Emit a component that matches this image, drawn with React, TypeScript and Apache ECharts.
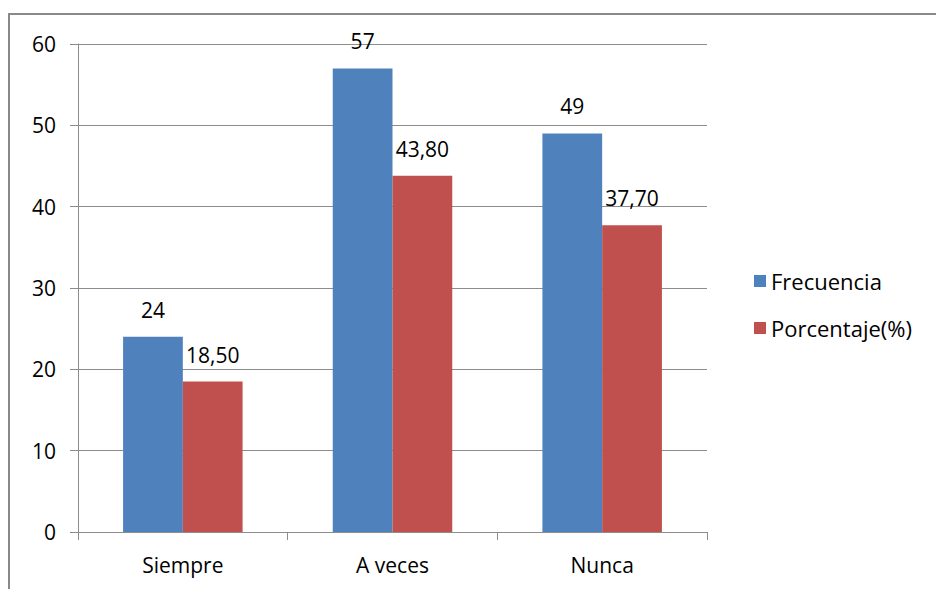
import React, { useEffect, useRef } from "react";
import * as echarts from "echarts";

const categories = ["Siempre", "A veces", "Nunca"];
const frecuencia = [24, 57, 49];
const porcentaje = [18.5, 43.8, 37.7];
const seriesNames = ["Frecuencia", "Porcentaje(%)"];
const yTicks = { min: 0, max: 60, interval: 10 };

const FONT = "'Open Sans', 'Liberation Sans', sans-serif";

export default function App() {
  const ref = useRef<HTMLDivElement>(null);
  useEffect(() => {
    if (!ref.current) return;
    const chart = echarts.init(ref.current, null, { renderer: "svg" });
    const labelStyle = {
      show: true,
      position: "top",
      distance: 16,
      color: "#000",
      fontFamily: FONT,
      fontSize: 21,
      lineHeight: 22,
    };
    chart.setOption({
      animation: false,
      backgroundColor: "#fff",
      textStyle: { fontFamily: FONT },
      graphic: [
        {
          type: "rect",
          shape: { x: 9, y: 14, width: 1000, height: 1000 },
          style: { fill: "none", stroke: "#898989", lineWidth: 2 },
          silent: true,
        },
      ],
      legend: {
        orient: "vertical",
        left: 749,
        top: 264,
        itemWidth: 12,
        itemHeight: 12,
        itemGap: 23,
        icon: "rect",
        textStyle: {
          fontFamily: FONT,
          fontSize: 22,
          lineHeight: 24,
          color: "#000",
          padding: [0, 0, 0, 0],
        },
        data: seriesNames,
      },
      grid: { left: 78, right: 229, top: 44, bottom: 57, containLabel: false },
      xAxis: {
        type: "category",
        data: categories,
        axisLine: { lineStyle: { color: "#8c8c8c", width: 1 } },
        axisTick: { show: true, length: 8, lineStyle: { color: "#8c8c8c" } },
        axisLabel: { color: "#000", fontFamily: FONT, fontSize: 21, margin: 22 },
      },
      yAxis: {
        type: "value",
        min: yTicks.min,
        max: yTicks.max,
        interval: yTicks.interval,
        axisLine: { show: true, lineStyle: { color: "#8c8c8c", width: 1 } },
        axisTick: { show: true, length: 8, lineStyle: { color: "#8c8c8c" } },
        axisLabel: { color: "#000", fontFamily: FONT, fontSize: 21, margin: 22 },
        splitLine: { lineStyle: { color: "#8c8c8c", width: 1 } },
      },
      series: [
        {
          name: seriesNames[0],
          type: "bar",
          data: frecuencia,
          barGap: "0%",
          barCategoryGap: "43%",
          itemStyle: { color: "#4F81BD" },
          label: { ...labelStyle, formatter: (p: any) => String(p.value) },
        },
        {
          name: seriesNames[1],
          type: "bar",
          data: porcentaje,
          barGap: "0%",
          barCategoryGap: "43%",
          itemStyle: { color: "#C0504D" },
          label: {
            ...labelStyle,
            formatter: (p: any) => Number(p.value).toFixed(2).replace(".", ","),
          },
        },
      ],
    });
    return () => chart.dispose();
  }, []);
  return (
    <div
      ref={ref}
      style={{ position: "absolute", left: 0, top: 0, width: 936, height: 589 }}
    />
  );
}
